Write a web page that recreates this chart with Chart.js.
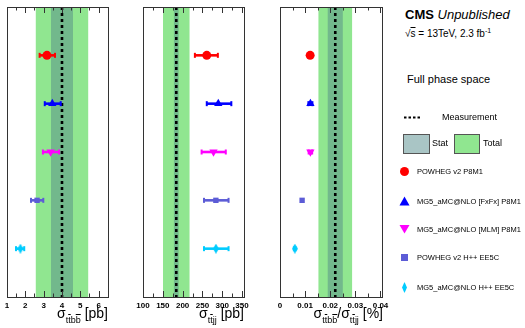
<!DOCTYPE html>
<html><head><meta charset="utf-8">
<script src="https://cdn.jsdelivr.net/npm/chart.js@4"></script>
<style>
html,body{margin:0;padding:0;background:#fff;}
body{width:525px;height:328px;position:relative;overflow:hidden;font-family:'Liberation Sans',Arial,sans-serif;}
canvas{position:absolute;top:0;}
.t{position:absolute;white-space:nowrap;line-height:1;color:#000;}
.xt{font-size:14px;}
.xt sub{font-size:9px;vertical-align:-5px;}
.ov{text-decoration:overline;}
.lg{font-size:7.5px;}
svg{position:absolute;overflow:visible;}
</style></head><body>
<canvas id="c1"></canvas>
<canvas id="c2"></canvas>
<canvas id="c3"></canvas>

<div class="t xt" style="right:417px;top:306px;">σ<sub>t<span class="ov">t</span>b<span class="ov">b</span></sub> [pb]</div>
<div class="t xt" style="right:281px;top:306px;">σ<sub>t<span class="ov">t</span>jj</sub> [pb]</div>
<div class="t xt" style="right:142px;top:306px;">σ<sub>t<span class="ov">t</span>b<span class="ov">b</span></sub>/σ<sub>t<span class="ov">t</span>jj</sub> [%]</div>

<div class="t" style="left:405px;top:8px;font-size:13px;"><b>CMS</b> <i>Unpublished</i></div>
<div class="t" style="left:405px;top:27px;font-size:10px;">√<span class="ov">s</span> = 13TeV, 2.3 fb<sup style="font-size:7px;">-1</sup></div>
<div class="t" style="left:407px;top:74px;font-size:11px;">Full phase space</div>
<svg style="left:0;top:0;" width="525" height="328">
  <line x1="404" y1="117.5" x2="422" y2="117.5" stroke="#000" stroke-width="2" stroke-dasharray="2.5,2"/>
  <rect x="403.5" y="134.5" width="26" height="19" fill="#a9c5c5" stroke="#555" stroke-width="1"/>
  <rect x="454.5" y="134.5" width="25" height="19" fill="#90e690" stroke="#555" stroke-width="1"/>
  <circle cx="404.5" cy="171.5" r="4.5" fill="#ff0000"/>
  <polygon points="404.5,196.5 399.5,205.5 409.5,205.5" fill="#0000ff"/>
  <polygon points="404.5,233.5 399.5,225 409.5,225" fill="#ff00ff"/>
  <rect x="401" y="254" width="7" height="7" fill="#5c5cd6"/>
  <polygon points="404.5,282 407,287.5 404.5,293 402,287.5" fill="#00ccff"/>
</svg>
<div class="t" style="left:442px;top:113px;font-size:9px;">Measurement</div>
<div class="t" style="left:432px;top:139px;font-size:9px;">Stat</div>
<div class="t" style="left:483px;top:139px;font-size:9px;">Total</div>
<div class="t lg" style="left:417px;top:168px;">POWHEG v2 P8M1</div>
<div class="t lg" style="left:417px;top:198px;">MG5_aMC@NLO [FxFx] P8M1</div>
<div class="t lg" style="left:417px;top:225.5px;">MG5_aMC@NLO [MLM] P8M1</div>
<div class="t lg" style="left:417px;top:254px;">POWHEG v2 H++ EE5C</div>
<div class="t lg" style="left:417px;top:284px;">MG5_aMC@NLO H++ EE5C</div>

<script>
// ---------------- data ----------------
const models = ['POWHEG v2 P8M1', 'MG5_aMC@NLO [FxFx] P8M1', 'MG5_aMC@NLO [MLM] P8M1', 'POWHEG v2 H++ EE5C', 'MG5_aMC@NLO H++ EE5C'];
const modelRows = [1, 2, 3, 4, 5];

const ttbbCentral = [3.18, 3.47, 3.38, 2.64, 1.73];
const ttbbLow     = [2.78, 3.06, 2.96, 2.31, 1.49];
const ttbbHigh    = [3.62, 3.93, 3.84, 2.98, 1.94];

const ttjjCentral = [261, 290, 278, 284, 284];
const ttjjLow     = [231, 261, 248, 254, 254];
const ttjjHigh    = [289, 323, 309, 316, 316];

const ratioCentral = [0.0120, 0.0121, 0.0121, 0.0088, 0.0059];
const ratioLow     = [0.0120, 0.0113, 0.0114, 0.0088, 0.0056];
const ratioHigh    = [0.0120, 0.0129, 0.0128, 0.0088, 0.0062];

// measurement: [ttbb, ttjj, ratio]
const measCentral = [4.0, 184, 0.022];
const measStat    = [0.6, 6, 0.003];
const measTotal   = [1.43, 33.5, 0.0067];

const ttbbTicks  = [1, 2, 3, 4, 5, 6];
const ttjjTicks  = [100, 150, 200, 250, 300, 350];
const ratioTicks = [0, 0.01, 0.02, 0.03, 0.04];
const ttbbMinor  = [1.5, 2.5, 3.5, 4.5, 5.5, 6.5];
const ttjjMinor  = [125, 175, 225, 275, 325];
const ratioMinor = [0.005, 0.015, 0.025, 0.035];

// ---------------- styles ----------------
const colors = ['#ff0000', '#0000ff', '#ff00ff', '#5c5cd6', '#00ccff'];
const diamond = document.createElement('canvas');
diamond.width = 6; diamond.height = 10;
(function(){ const g = diamond.getContext('2d'); g.fillStyle = '#00ccff'; g.beginPath();
  g.moveTo(3,0); g.lineTo(6,5); g.lineTo(3,10); g.lineTo(0,5); g.closePath(); g.fill(); })();
const pStyles = ['circle', 'triangle', 'triangle', 'rect', diamond];
const pRot = [0, 0, 180, 0, 0];
const pRad = [4.5, 4.8, 4.8, 3.8, 4];

const bandPlugin = {
  id: 'bands',
  beforeDatasetsDraw(chart, args, o) {
    const {ctx, chartArea: a, scales: {x}} = chart;
    ctx.save();
    ctx.fillStyle = '#90e690';
    let l = x.getPixelForValue(o.c - o.tot), r = x.getPixelForValue(o.c + o.tot);
    ctx.fillRect(l, a.top, r - l, a.bottom - a.top);
    ctx.fillStyle = '#72b88c';
    l = x.getPixelForValue(o.c - o.stat); r = x.getPixelForValue(o.c + o.stat);
    ctx.fillRect(l, a.top, r - l, a.bottom - a.top);
    ctx.restore();
  },
  afterDatasetsDraw(chart, args, o) {
    const {ctx, chartArea: a, scales: {x}} = chart;
    ctx.save();
    ctx.strokeStyle = '#333';
    ctx.lineWidth = 1;
    const tick = (v, len) => {
      const px = Math.round(x.getPixelForValue(v)) + 0.5;
      ctx.beginPath();
      ctx.moveTo(px, a.bottom); ctx.lineTo(px, a.bottom - len);
      ctx.moveTo(px, a.top); ctx.lineTo(px, a.top + len);
      ctx.stroke();
    };
    o.major.forEach(v => tick(v, 6));
    o.minor.forEach(v => tick(v, 3.5));
    ctx.strokeRect(Math.round(a.left) + 0.5, Math.round(a.top) + 0.5, Math.round(a.right - a.left), Math.round(a.bottom - a.top));
    ctx.restore();
  }
};

function makePanel(id, frameL, frameR, xmin, xmax, central, low, high, mi, major, minor, fmt) {
  const pad = 14;
  const cv = document.getElementById(id);
  cv.width = frameR - frameL + 2 * pad;
  cv.height = 328;
  cv.style.left = (frameL - pad) + 'px';
  const datasets = [];
  datasets.push({
    type: 'line', order: 5,
    data: [{x: measCentral[mi], y: 0}, {x: measCentral[mi], y: 6}],
    borderColor: '#000', borderWidth: 2.6, borderDash: [3, 3], pointRadius: 0
  });
  models.forEach((m, i) => {
    if (high[i] > low[i]) {
      datasets.push({
        type: 'line', order: 3,
        data: [{x: low[i], y: modelRows[i]}, {x: high[i], y: modelRows[i]}],
        borderColor: colors[i], borderWidth: 2.6,
        pointStyle: 'line', rotation: 90, pointRadius: 2.5, pointBorderWidth: 2,
        pointBorderColor: colors[i]
      });
    }
    datasets.push({
      type: 'scatter', order: 1, label: m,
      data: [{x: central[i], y: modelRows[i]}],
      pointStyle: pStyles[i], rotation: pRot[i], pointRadius: pRad[i],
      backgroundColor: colors[i], borderColor: colors[i], borderWidth: 0
    });
  });
  new Chart(cv, {
    type: 'scatter',
    data: {datasets},
    options: {
      responsive: false, animation: false, events: [],
      layout: {padding: {left: pad, right: pad, top: 7, bottom: 0}},
      plugins: {legend: {display: false}, tooltip: {enabled: false},
        bands: {c: measCentral[mi], stat: measStat[mi], tot: measTotal[mi], major, minor}},
      scales: {
        x: {
          type: 'linear', min: xmin, max: xmax,
          afterBuildTicks: s => { s.ticks = major.map(v => ({value: v})); },
          afterFit: s => { s.height = 31; },
          grid: {display: false, drawTicks: false}, border: {display: false},
          ticks: {autoSkip: false, maxRotation: 0, padding: 4, color: '#000',
            font: {family: 'Liberation Sans', size: 8, weight: 'bold'},
            callback: v => fmt(v)}
        },
        y: {type: 'linear', min: 0, max: 6, reverse: true, display: false}
      }
    },
    plugins: [bandPlugin]
  });
}

makePanel('c1', 7, 108, 1, 6.51, ttbbCentral, ttbbLow, ttbbHigh, 0, ttbbTicks, ttbbMinor, v => String(v));
makePanel('c2', 143, 244, 100, 355, ttjjCentral, ttjjLow, ttjjHigh, 1, ttjjTicks, ttjjMinor, v => String(v));
makePanel('c3', 280, 382, 0, 0.0406, ratioCentral, ratioLow, ratioHigh, 2, ratioTicks, ratioMinor, v => v === 0 ? '0' : String(parseFloat(v.toFixed(3))));
</script>
</body></html>
